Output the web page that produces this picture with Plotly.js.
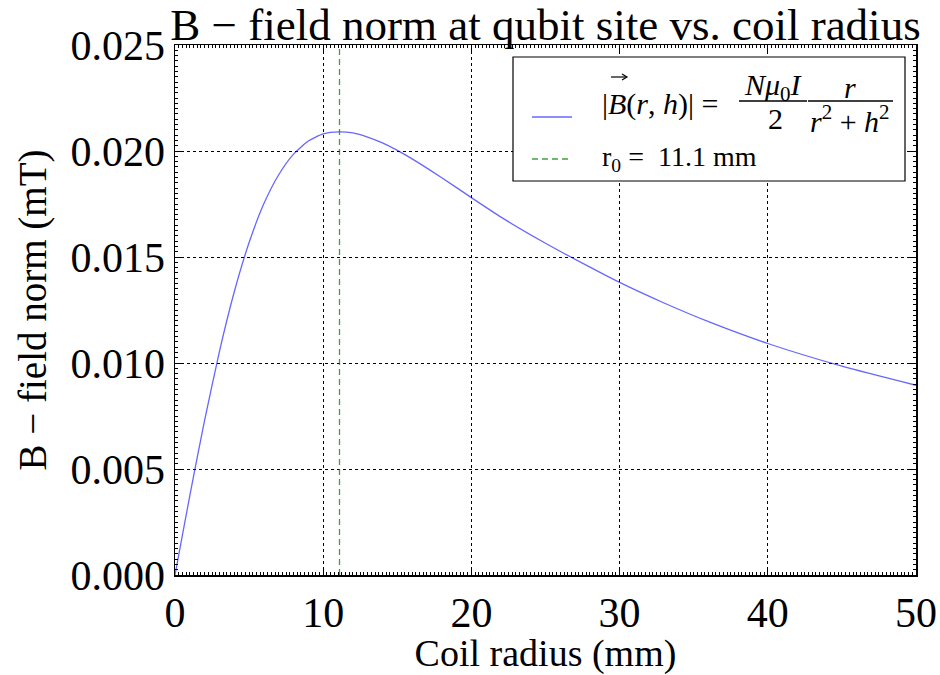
<!DOCTYPE html>
<html>
<head>
<meta charset="utf-8">
<script src="https://cdn.plot.ly/plotly-3.0.1.min.js"></script>
<style>html,body{margin:0;padding:0;background:#fff;}#chart{width:940px;height:675px;}</style>
</head>
<body>
<div id="chart"></div>
<script>
// Data
var coilRadiusMm = [0, 0.5, 1, 1.5, 2, 3, 4, 5, 6, 7, 8, 9, 10, 11.1, 12, 13, 14, 15, 16, 18, 20, 22, 25, 28, 30, 33, 36, 40, 45, 50];
var fieldNormMt = [0, 0.00188, 0.00374, 0.00555, 0.00730, 0.01055, 0.01336, 0.01568, 0.01752, 0.01888, 0.01985, 0.02047, 0.02081, 0.02090, 0.02085, 0.02066, 0.02038, 0.02003, 0.01963, 0.01874, 0.01780, 0.01688, 0.01565, 0.01452, 0.01380, 0.01283, 0.01195, 0.01092, 0.00985, 0.00895];
var r0 = 11.1;
var xRange = [0, 50];
var yRange = [0, 0.025];
var xMajorStep = 10, yMajorStep = 0.005;

var FONT = "Liberation Serif, DejaVu Serif, serif";
var W = 940, H = 675, L = 175, R = 24, T = 45, B = 100;
var pw = W - L - R, ph = H - T - B;
function px(x) { return (x - L) / pw; }
function py(y) { return (H - B - y) / ph; }

var traces = [
  {x: coilRadiusMm, y: fieldNormMt, mode: 'lines', type: 'scatter',
   line: {color: 'rgba(0,0,255,0.6)', width: 1.3, shape: 'spline', smoothing: 0.6},
   showlegend: false, hoverinfo: 'skip'},
  {x: [r0, r0], y: yRange, mode: 'lines', type: 'scatter',
   line: {color: 'rgba(0,128,0,0.75)', width: 1.3, dash: '6px,4px'},
   showlegend: false, hoverinfo: 'skip'}
];

var shapes = [
  {type: 'rect', xref: 'paper', yref: 'paper', x0: px(513), x1: px(905), y0: py(181), y1: py(57),
   line: {color: 'black', width: 1.2}, fillcolor: 'white', layer: 'above'},
  {type: 'line', xref: 'paper', yref: 'paper', x0: px(532), x1: px(572), y0: py(117), y1: py(117),
   line: {color: 'rgba(0,0,255,0.6)', width: 1.3}},
  {type: 'line', xref: 'paper', yref: 'paper', x0: px(532), x1: px(570), y0: py(159), y1: py(159),
   line: {color: 'rgba(0,128,0,0.75)', width: 1.3, dash: '6px,4px'}},
  {type: 'line', xref: 'paper', yref: 'paper', x0: px(739), x1: px(807), y0: py(101), y1: py(101),
   line: {color: 'black', width: 1.5}},
  {type: 'line', xref: 'paper', yref: 'paper', x0: px(808), x1: px(893), y0: py(101), y1: py(101),
   line: {color: 'black', width: 1.5}},
  // vector arrow over B
  {type: 'line', xref: 'paper', yref: 'paper', x0: px(611), x1: px(626), y0: py(77), y1: py(77),
   line: {color: 'black', width: 1.2}},
  {type: 'path', xref: 'paper', yref: 'paper',
   path: 'M ' + px(622) + ' ' + py(74) + ' L ' + px(627) + ' ' + py(77) + ' L ' + px(622) + ' ' + py(80),
   line: {color: 'black', width: 1.2}}
];

function ann(text, x, y, xanchor, size) {
  return {text: text, xref: 'paper', yref: 'paper', x: px(x), y: py(y), xanchor: xanchor || 'center',
          yanchor: 'middle', showarrow: false, font: {family: FONT, size: size || 30, color: 'black'}};
}
var annotations = [
  ann('|<i>B</i>(<i>r</i>, <i>h</i>)| =', 600, 104, 'left'),
  ann('<i>N\u03bc</i><sub>0</sub><i>I</i>', 773, 87),
  ann('2', 775, 119),
  ann('<i>r</i>', 850, 87),
  ann('<i>r</i><sup>2</sup> + <i>h</i><sup>2</sup>', 850, 119),
  ann('r<sub>0</sub> =  ' + r0.toFixed(1) + ' mm', 600, 159, 'left', 28)
];

var axisCommon = {
  showline: true, linecolor: 'black', linewidth: 1.5, mirror: 'allticks',
  ticks: 'inside', ticklen: 8, tickwidth: 1, tickcolor: 'black',
  showgrid: true, gridcolor: 'black', gridwidth: 1, griddash: 'dot',
  zeroline: false, tickfont: {family: FONT, size: 42, color: 'black'}
};

var layout = {
  width: W, height: H, margin: {l: L, r: R, t: T, b: B},
  paper_bgcolor: 'white', plot_bgcolor: 'white',
  title: {text: 'B \u2212 field norm at qubit site vs. coil radius', font: {family: FONT, size: 45, color: 'black'},
          xref: 'paper', x: 0.5, xanchor: 'center', yref: 'paper', y: 1, yanchor: 'bottom', pad: {b: 5}},
  xaxis: Object.assign({}, axisCommon, {
    range: xRange, tickmode: 'linear', tick0: 0, dtick: xMajorStep,
    minor: {dtick: 0.25, ticks: 'inside', ticklen: 3, tickcolor: 'black', tickwidth: 1, showgrid: false},
    title: {text: 'Coil radius (mm)', font: {family: FONT, size: 38, color: 'black'}, standoff: 10}
  }),
  yaxis: Object.assign({}, axisCommon, {
    range: yRange, tickmode: 'linear', tick0: 0, dtick: yMajorStep, tickformat: '.3f',
    minor: {dtick: 0.00025, ticks: 'inside', ticklen: 3, tickcolor: 'black', tickwidth: 1, showgrid: false},
    title: {text: 'B \u2212 field norm (mT)', font: {family: FONT, size: 39, color: 'black'}, standoff: 12}
  }),
  shapes: shapes, annotations: annotations, showlegend: false
};

Plotly.newPlot('chart', traces, layout, {staticPlot: true, displayModeBar: false});
</script>
</body>
</html>
